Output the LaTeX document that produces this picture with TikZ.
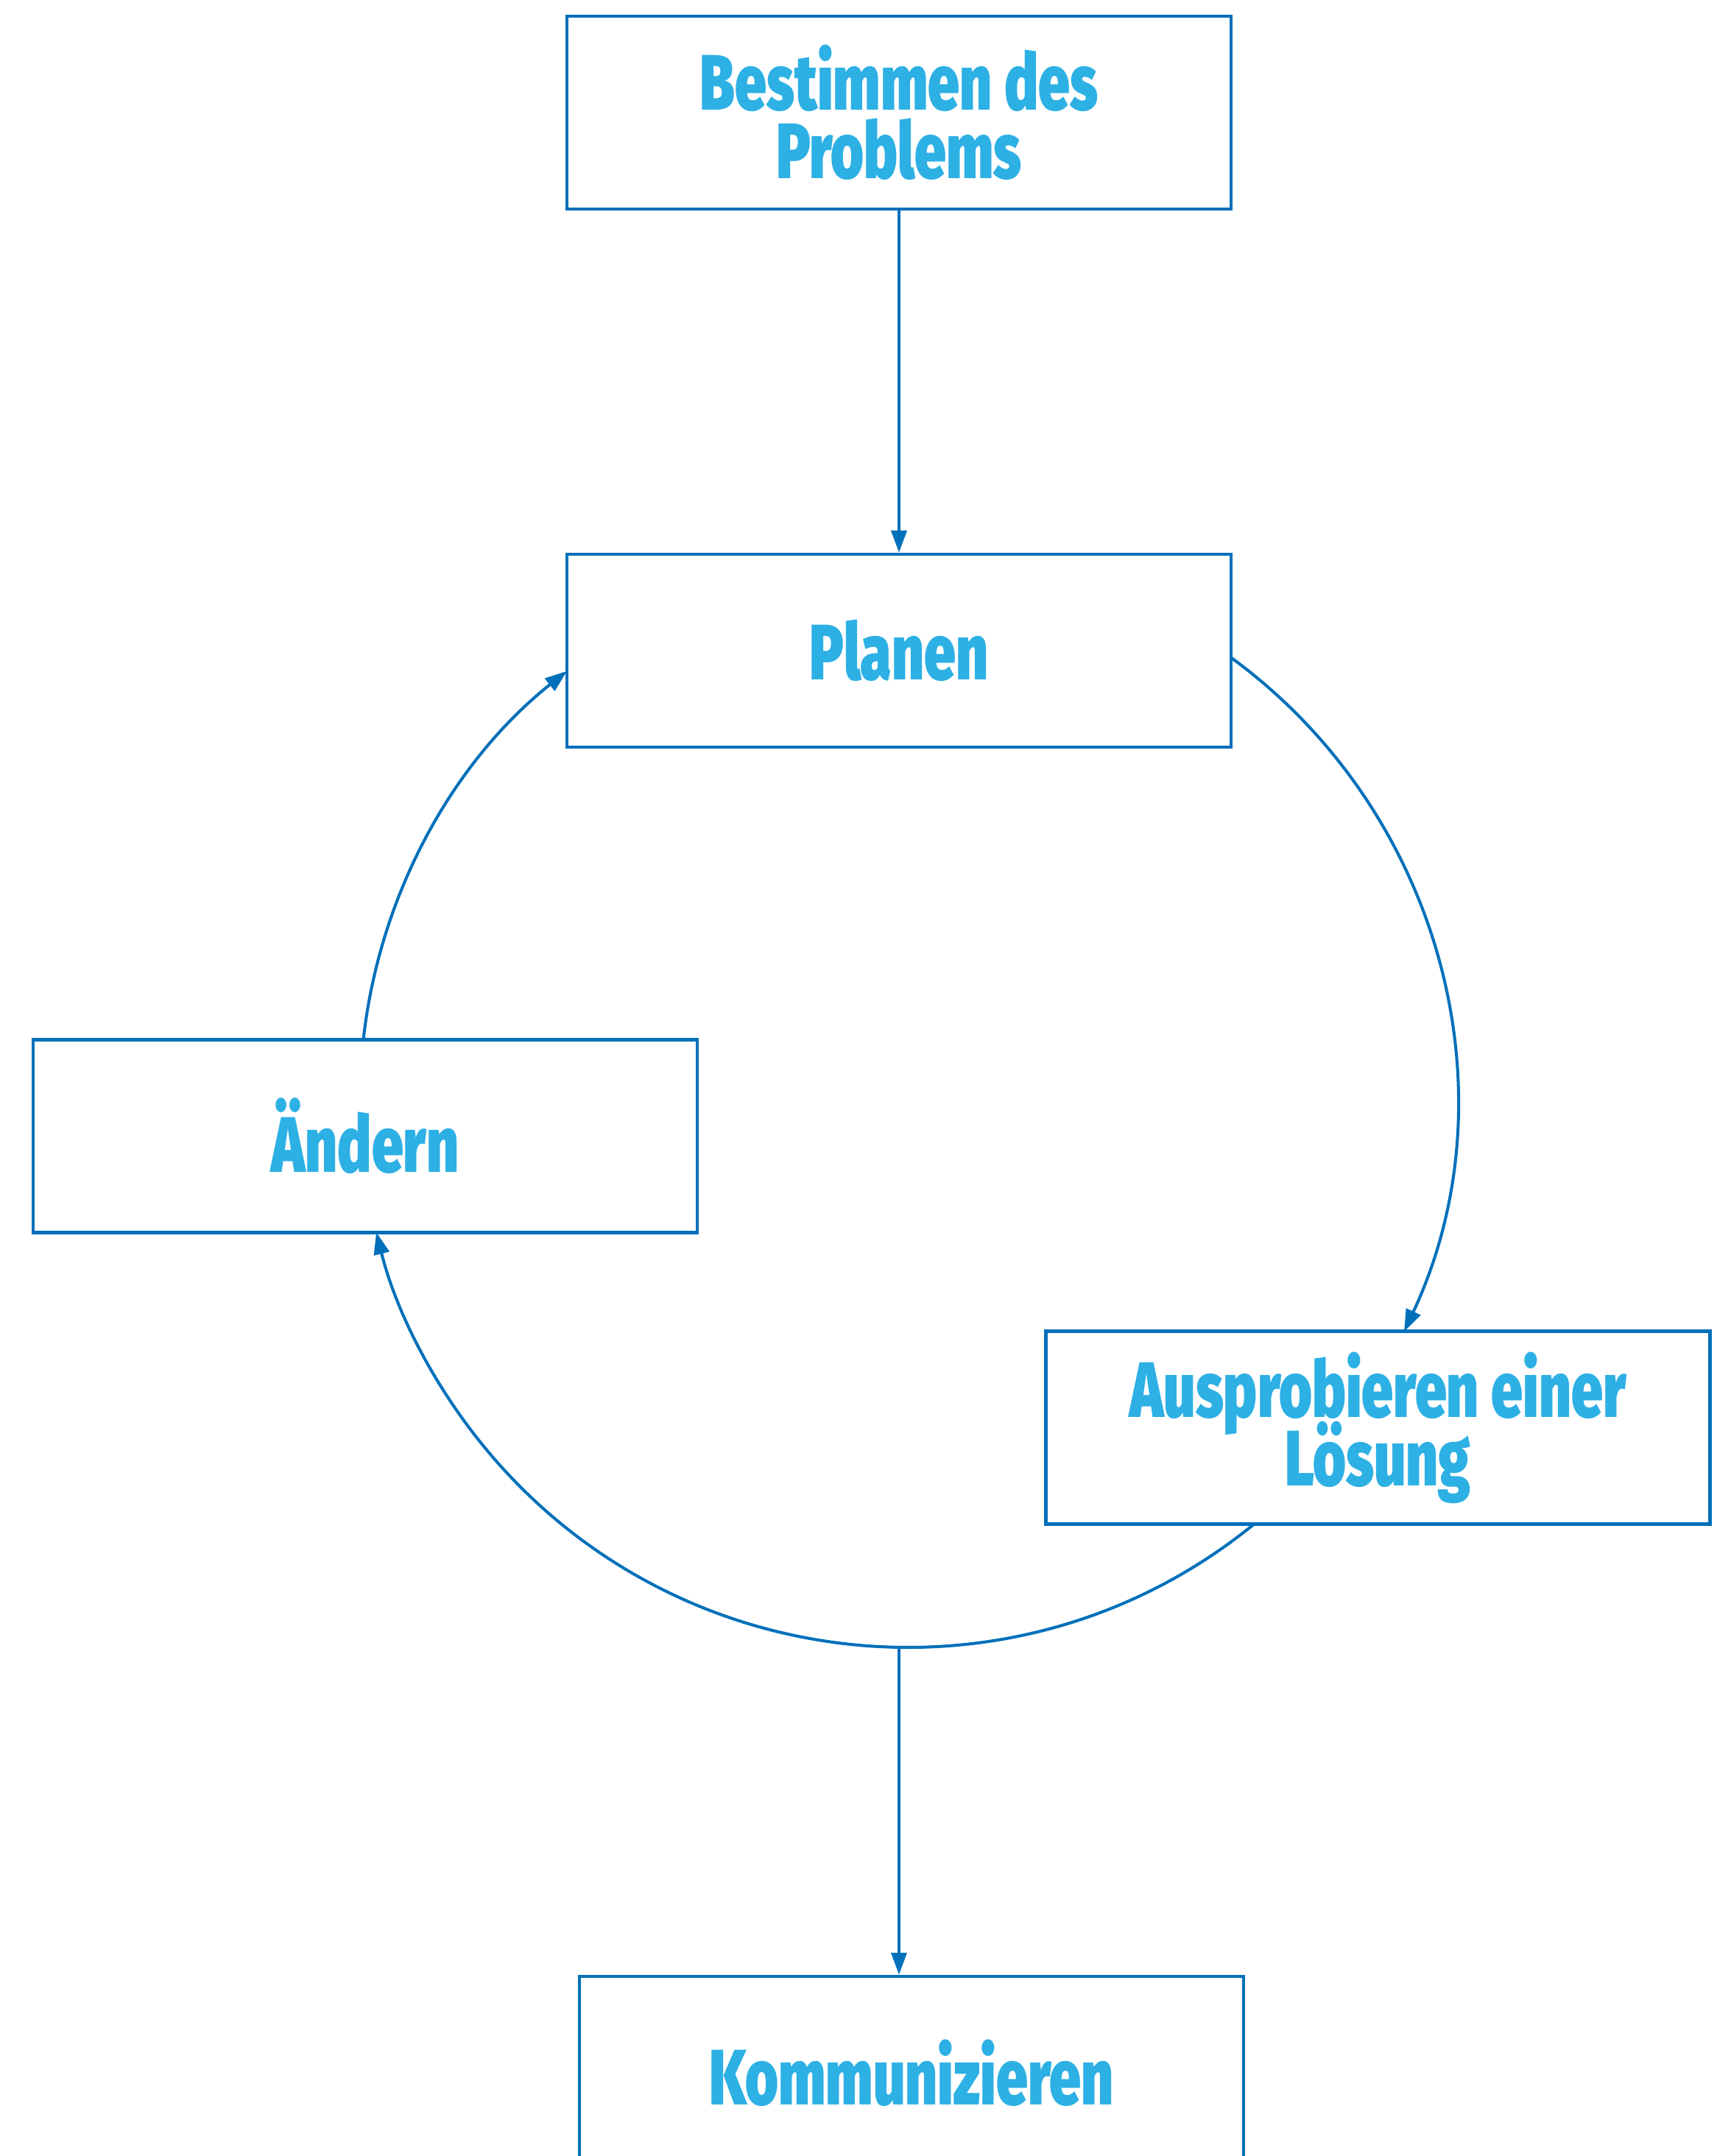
\documentclass[tikz,border=0pt]{standalone}
\usepackage{fontspec}
\newfontfamily\dispfont{Fira Sans Black}[FakeStretch=0.72]
\usetikzlibrary{arrows.meta,calc}
\definecolor{lineblue}{RGB}{0,112,186}
\definecolor{textblue}{RGB}{45,176,228}
\newcommand\myboxfont{\dispfont\fontsize{30.4pt}{26.5pt}\selectfont\lineskiplimit -100pt\lineskip 0pt\relax}
\begin{document}
\begin{tikzpicture}[x=1cm,y=1cm,
  box/.style={draw=lineblue, line width=1.3pt, minimum width=9.02cm, minimum height=2.62cm,
    inner sep=0pt, align=center, text=textblue, font=\myboxfont},
  conn/.style={draw=lineblue, line width=1.15pt, line cap=round,
    -{Triangle[length=0.3cm,width=0.21cm]}}]
\useasboundingbox (0,0) rectangle (23.32,-29.29);
\node[box] (prob) at (12.21,-1.53) {Bestimmen des\\Problems};
\node[box] (plan) at (12.21,-8.84) {Planen};
\node[box] (aend) at (4.96,-15.435) {Ändern};
\node[box] (ausp) at (18.715,-19.395) {Ausprobieren einer\\Lösung};
\node[box] (komm) at (12.38,-28.16) {Kommunizieren};
\coordinate (O) at (12.33,-14.94);
\coordinate (p1) at ($(O)+(53.8:7.44)$);
\coordinate (p2) at ($(O)+(-50.73:7.44)$);
\coordinate (p3) at ($(O)+(173.75:7.44)$);
\coordinate (b) at (12.21,-22.38);
\draw[conn] (prob.south) -- (plan.north);
\draw[conn] (p1) arc[start angle=53.8, end angle=-25.05, radius=7.44];
\draw[conn] (p2) arc[start angle=-50.73, end angle=-166.0, radius=7.44];
\draw[conn] (p3) arc[start angle=173.75, end angle=128.48, radius=7.44];
\draw[conn] (b) -- (b |- komm.north);
\end{tikzpicture}
\end{document}
